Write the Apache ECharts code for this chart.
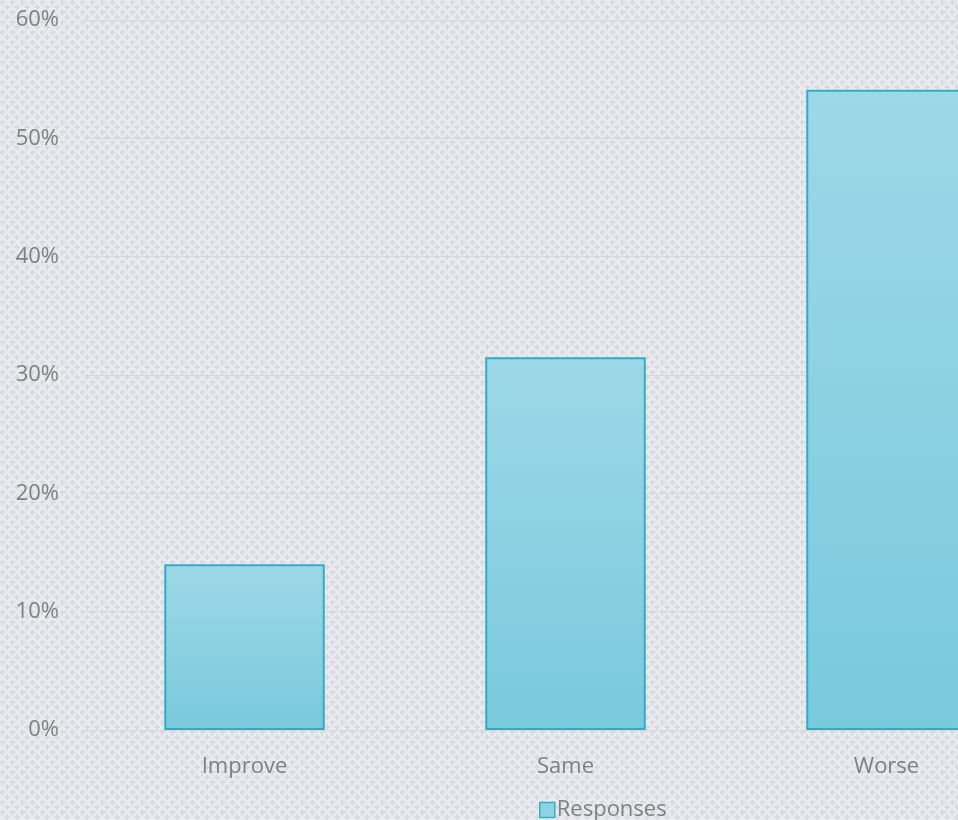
<!DOCTYPE html>
<html>
<head>
<meta charset="utf-8">
<script src="https://cdn.jsdelivr.net/npm/echarts@6/dist/echarts.min.js"></script>
<style>
html,body{margin:0;padding:0;background:#e8e9ed;}
#chart{width:958px;height:820px;}
</style>
</head>
<body>
<div id="chart"></div>
<script>
var categories = ['Improve', 'Same', 'Worse'];
var responses = [14.0, 31.5, 54.1];
var seriesName = 'Responses';

function makePattern() {
  var c = document.createElement('canvas');
  c.width = 10; c.height = 10;
  var g = c.getContext('2d');
  g.fillStyle = '#eaebef';
  g.fillRect(0, 0, 10, 10);
  function cross(x, y) {
    g.fillStyle = '#dfe0e5';
    g.fillRect(x - 3, y - 1, 7, 2);
    g.fillRect(x - 1, y - 3, 2, 7);
    g.fillStyle = '#d7d8de';
    g.fillRect(x - 2, y, 5, 1);
    g.fillRect(x, y - 2, 1, 5);
  }
  cross(2, 2);
  cross(7, 7);
  return c;
}

var chart = echarts.init(document.getElementById('chart'));
chart.setOption({
  backgroundColor: { image: makePattern(), repeat: 'repeat' },
  animation: false,
  textStyle: { fontFamily: 'Open Sans' },
  grid: { left: 84, width: 963, top: 20, bottom: 90, containLabel: false, outerBoundsMode: 'none' },
  legend: {
    data: [seriesName],
    left: 534,
    top: 794,
    icon: 'rect',
    itemWidth: 15,
    itemHeight: 15,
    itemGap: 8,
    itemStyle: { borderColor: '#36b0c7', borderWidth: 1.5, color: '#8fd2e3' },
    textStyle: { color: '#808080', fontSize: 22, fontFamily: 'Open Sans', padding: [0, 0, 0, -3] }
  },
  xAxis: {
    type: 'category',
    data: categories,
    axisLine: { show: true, lineStyle: { color: '#d4d5d9', width: 1 } },
    axisTick: { show: false },
    axisLabel: { color: '#808080', fontSize: 22, margin: 26, fontFamily: 'Open Sans' }
  },
  yAxis: {
    type: 'value',
    min: 0,
    max: 60,
    interval: 10,
    axisLine: { show: false },
    axisTick: { show: false },
    axisLabel: { color: '#808080', fontSize: 22, margin: 25, fontFamily: 'Open Sans', formatter: '{value}%' },
    splitLine: { lineStyle: { color: '#d6d7db', width: 1 } }
  },
  series: [{
    name: seriesName,
    type: 'bar',
    data: responses,
    barWidth: '50%',
    itemStyle: {
      color: new echarts.graphic.LinearGradient(0, 0, 0, 1, [
        { offset: 0, color: '#9dd8e8' },
        { offset: 1, color: '#79c9dc' }
      ]),
      borderColor: '#30adc5',
      borderWidth: 2
    }
  }]
});
</script>
</body>
</html>
